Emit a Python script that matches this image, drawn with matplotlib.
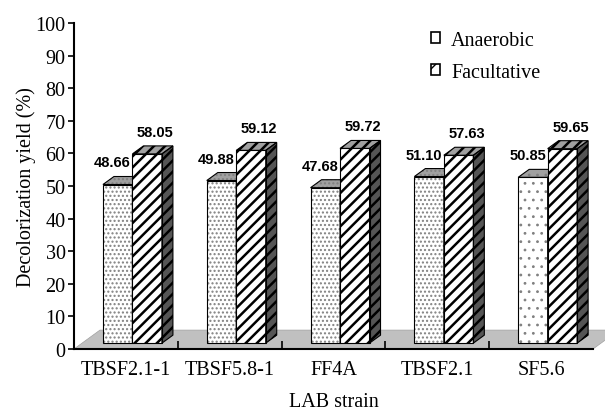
import numpy as np
import matplotlib.pyplot as plt
from matplotlib.patches import Polygon, Patch

strains = ['TBSF2.1-1', 'TBSF5.8-1', 'FF4A', 'TBSF2.1', 'SF5.6']
anaerobic = [48.66, 49.88, 47.68, 51.10, 50.85]
facultative = [58.05, 59.12, 59.72, 57.63, 59.65]

plt.rcParams['font.family'] = 'Liberation Serif'

fig = plt.figure(figsize=(6.05, 4.14), dpi=100)
ax = fig.add_axes([74 / 605, 1 - 350 / 414, 519 / 605, 326 / 414])
ax.set_xlim(0, 5)
ax.set_ylim(0, 100)

# depth of the fake 3d boxes (data units)
DX, DY = 0.106, 2.45
BASE = 1.8
W = 0.284


def face(pts, fc, hatch, hc, hlw, z):
    p = Polygon(pts, closed=True, facecolor=fc, edgecolor=hc, linewidth=0,
                hatch=hatch, zorder=z)
    if hasattr(p, 'set_hatch_linewidth'):
        p.set_hatch_linewidth(hlw)
    ax.add_patch(p)
    ax.add_patch(Polygon(pts, closed=True, fill=False, edgecolor='black',
                         linewidth=0.8, zorder=z + 0.01))


def box(x0, h, colors, hatch, hc, hlw, z):
    y0, y1 = BASE, BASE + h
    x1 = x0 + W
    front = [(x0, y0), (x1, y0), (x1, y1), (x0, y1)]
    top = [(x0, y1), (x1, y1), (x1 + DX, y1 + DY), (x0 + DX, y1 + DY)]
    side = [(x1, y0), (x1 + DX, y0 + DY), (x1 + DX, y1 + DY), (x1, y1)]
    face(side, colors[2], hatch, hc, hlw, z)
    face(top, colors[1], hatch, hc, hlw, z)
    face(front, colors[0], hatch, hc, hlw, z)


# grey floor
floor = Polygon([(0, 0), (5, 0), (5 + 0.25, 5.8), (0.25, 5.8)], closed=True,
                facecolor='#c0c0c0', edgecolor='#a0a0a0', linewidth=0.5,
                zorder=1, clip_on=False)
ax.add_patch(floor)

dot_hatch = ['....', '....', '....', '....', '..']
dot_lw = [1.0, 1.0, 1.0, 1.0, 0.8]
for i in range(len(strains)):
    xa = i + 0.279
    xf = i + 0.563
    box(xa, anaerobic[i], ('white', '#a0a0a0', '#707070'), dot_hatch[i],
        '#808080', dot_lw[i], 2 + i)
    box(xf, facultative[i], ('white', '#a0a0a0', '#555555'), '///',
        'black', 1.8, 2.5 + i)
    ax.text(xa + 0.09, anaerobic[i] + BASE + DY + 4.3, f'{anaerobic[i]:.2f}',
            ha='center', va='center', fontsize=10.5, fontweight='bold',
            family='Liberation Sans', zorder=10)
    ax.text(xf + 0.22, facultative[i] + BASE + DY + 4.3, f'{facultative[i]:.2f}',
            ha='center', va='center', fontsize=10.5, fontweight='bold',
            family='Liberation Sans', zorder=10)

for s in ['top', 'right']:
    ax.spines[s].set_visible(False)
for s in ['left', 'bottom']:
    ax.spines[s].set_linewidth(1.5)
    ax.spines[s].set_zorder(20)

ax.set_yticks(np.arange(0, 101, 10))
ax.tick_params(axis='y', labelsize=14.5, length=4, width=1.2, pad=2)
ax.set_xticks(np.arange(len(strains)) + 0.5)
ax.set_xticklabels(strains)
ax.set_xticks(np.arange(1, len(strains)), minor=True)
ax.tick_params(axis='x', which='major', length=0, labelsize=14.5, pad=8)
ax.tick_params(axis='x', which='minor', direction='in', length=6, width=1.2)

ax.set_ylabel('Decolorization yield (%)', fontsize=14.5, labelpad=0)
ax.set_xlabel('LAB strain', fontsize=14.5, labelpad=9)

h_an = Patch(facecolor='white', edgecolor='black', linewidth=1.2)
h_fa = Patch(facecolor='white', edgecolor='black', linewidth=1.2, hatch='//')
if hasattr(h_fa, 'set_hatch_linewidth'):
    h_fa.set_hatch_linewidth(2.0)
ax.legend([h_an, h_fa], ['Anaerobic', 'Facultative'], loc='upper left',
          bbox_to_anchor=(421 / 605, 1 - 22 / 414),
          bbox_transform=fig.transFigure, frameon=False, fontsize=14.5,
          handlelength=0.45, handleheight=0.45, handletextpad=0.55,
          labelspacing=0.62, borderpad=0)

fig.savefig('out.png', dpi=100)
